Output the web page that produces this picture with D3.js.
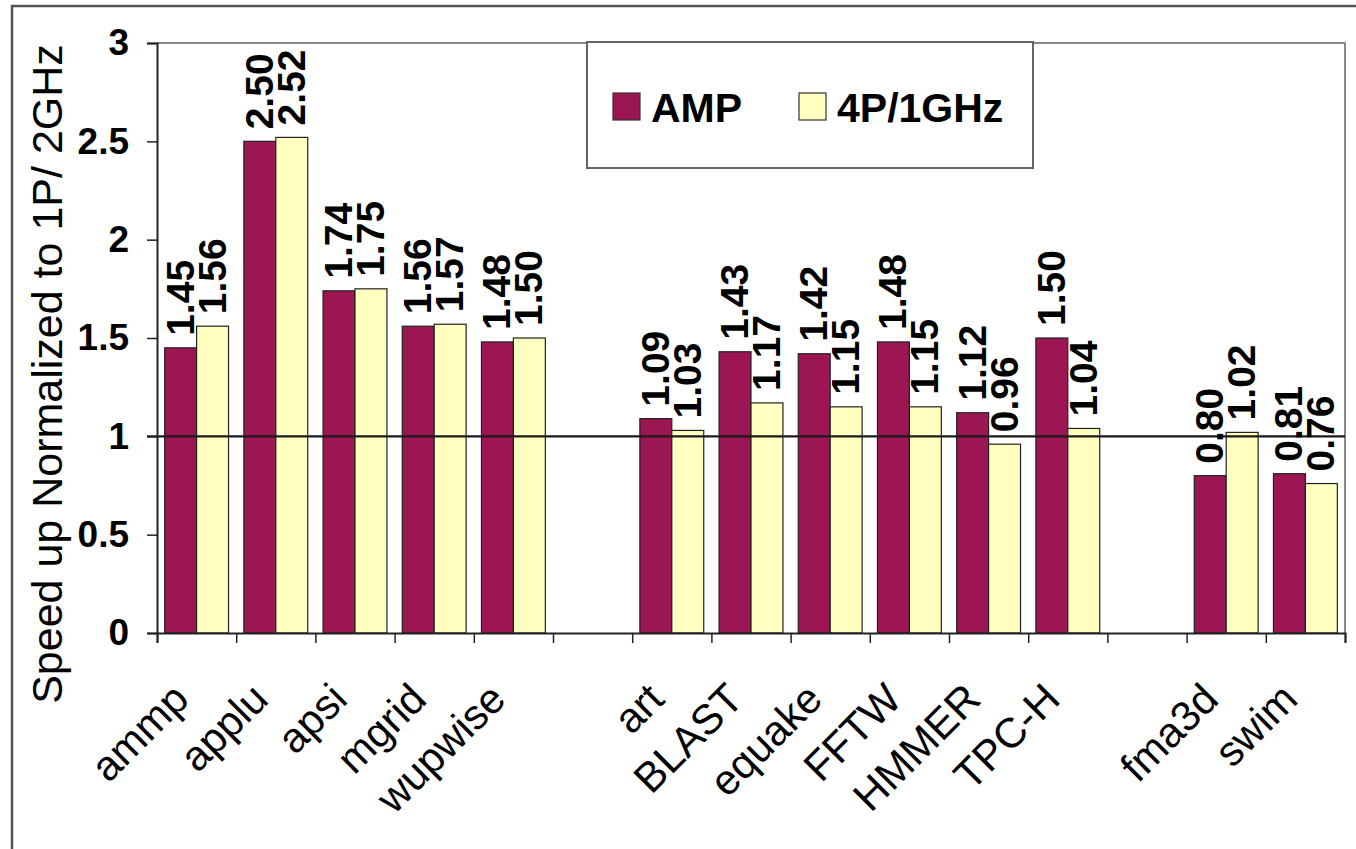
<!DOCTYPE html>
<html>
<head>
<meta charset="utf-8">
<script src="https://cdn.jsdelivr.net/npm/d3@7"></script>
<style>
  body { margin: 0; background: #fff; }
  svg { display: block; font-family: "Liberation Sans", Arial, sans-serif; }
</style>
</head>
<body>
<div id="chart"></div>
<script>
// slot order along the x axis, blank entries are the empty gaps between groups
var slots = ["ammp", "applu", "apsi", "mgrid", "wupwise", "",
             "art", "BLAST", "equake", "FFTW", "HMMER", "TPC-H", " ",
             "fma3d", "swim"];
var categories = ["ammp", "applu", "apsi", "mgrid", "wupwise",
                  "art", "BLAST", "equake", "FFTW", "HMMER", "TPC-H",
                  "fma3d", "swim"];
var seriesNames = ["AMP", "4P/1GHz"];
var ampValues = [1.45, 2.50, 1.74, 1.56, 1.48, 1.09, 1.43, 1.42, 1.48, 1.12, 1.50, 0.80, 0.81];
var fourPValues = [1.56, 2.52, 1.75, 1.57, 1.50, 1.03, 1.17, 1.15, 1.15, 0.96, 1.04, 1.02, 0.76];
var yTicks = [0, 0.5, 1, 1.5, 2, 2.5, 3];
var yTitle = "Speed up Normalized to 1P/ 2GHz";

var colors = {"AMP": "#9b1652", "4P/1GHz": "#ffffc0"};

var width = 1356, height = 849;
var plot = {left: 157, right: 1345, top: 43, bottom: 633};

var rows = [];
categories.forEach(function(c, i) {
  rows.push({cat: c, series: "AMP", value: ampValues[i]});
  rows.push({cat: c, series: "4P/1GHz", value: fourPValues[i]});
});

var svg = d3.select("#chart").append("svg")
    .attr("width", width)
    .attr("height", height);

// outer chart border (runs off the right and bottom edges)
svg.append("rect")
    .attr("x", 12).attr("y", 6)
    .attr("width", 1400).attr("height", 900)
    .attr("fill", "none")
    .attr("stroke", "#555")
    .attr("stroke-width", 2.5);

var x0 = d3.scaleBand()
    .domain(slots)
    .range([plot.left, plot.right])
    .paddingInner(0).paddingOuter(0);

var x1 = d3.scaleBand()
    .domain(seriesNames)
    .range([0, x0.bandwidth()])
    .paddingInner(0).paddingOuter(0.24);

var y = d3.scaleLinear()
    .domain([0, 3])
    .range([plot.bottom, plot.top]);

// plot frame (top and right)
svg.append("path")
    .attr("d", "M" + plot.left + "," + plot.top + "H" + plot.right + "V" + plot.bottom)
    .attr("fill", "none")
    .attr("stroke", "#888")
    .attr("stroke-width", 2);

// bars
svg.append("g").selectAll("rect")
  .data(rows)
  .enter().append("rect")
    .attr("x", function(d) { return x0(d.cat) + x1(d.series); })
    .attr("y", function(d) { return y(d.value); })
    .attr("width", x1.bandwidth())
    .attr("height", function(d) { return y(0) - y(d.value); })
    .attr("fill", function(d) { return colors[d.series]; })
    .attr("stroke", "#222")
    .attr("stroke-width", 1.2);

// reference line at 1
svg.append("line")
    .attr("x1", plot.left - 10).attr("x2", plot.right)
    .attr("y1", y(1)).attr("y2", y(1))
    .attr("stroke", "#1a1a1a")
    .attr("stroke-width", 2.2);

// y axis
var yAxis = d3.axisLeft(y)
    .tickValues(yTicks)
    .tickFormat(function(d) { return d; })
    .tickSize(10)
    .tickPadding(18);

var gy = svg.append("g")
    .attr("transform", "translate(" + plot.left + ",0)")
    .call(yAxis);
gy.select(".domain").attr("stroke", "#222").attr("stroke-width", 2);
gy.selectAll(".tick line").attr("stroke", "#222").attr("stroke-width", 1.5);
gy.selectAll("text")
    .attr("font-size", 37)
    .attr("font-weight", "bold")
    .attr("fill", "#000")
    .attr("font-family", "Liberation Sans, Arial, sans-serif");

// x axis: tick marks between slots
var xEdge = d3.scaleLinear().domain([0, slots.length]).range([plot.left, plot.right]);
var gx = svg.append("g")
    .attr("transform", "translate(0," + plot.bottom + ")")
    .call(d3.axisBottom(xEdge).tickValues(d3.range(slots.length + 1)).tickFormat("").tickSize(10));
gx.select(".domain").attr("stroke", "#222").attr("stroke-width", 2);
gx.selectAll(".tick line").attr("stroke", "#222").attr("stroke-width", 1.5);

// x axis category labels, rotated
var gl = svg.append("g")
    .attr("transform", "translate(0," + plot.bottom + ")")
    .call(d3.axisBottom(x0).tickValues(categories).tickSize(0).tickPadding(0));
gl.select(".domain").remove();
gl.selectAll("text")
    .attr("font-size", 42)
    .attr("fill", "#000")
    .attr("font-family", "Liberation Sans, Arial, sans-serif")
    .attr("text-anchor", "end")
    .attr("x", 0).attr("y", 0)
    .attr("dy", "0.35em")
    .attr("transform", "translate(-16,58) rotate(-45)");

// value labels
svg.append("g").selectAll("text")
  .data(rows)
  .enter().append("text")
    .attr("transform", function(d) {
      var cx = x0(d.cat) + x1(d.series) + x1.bandwidth() / 2 + 13;
      return "translate(" + cx + "," + (y(d.value) - 12) + ") rotate(-90)";
    })
    .attr("font-size", 39)
    .attr("font-weight", "bold")
    .attr("fill", "#000")
    .text(function(d) { return d.value.toFixed(2); });

// y axis title
svg.append("text")
    .attr("transform", "translate(62,374) rotate(-90)")
    .attr("text-anchor", "middle")
    .attr("font-size", 43)
    .attr("fill", "#000")
    .text(yTitle);

// legend
var legend = svg.append("g");
legend.append("rect")
    .attr("x", 587).attr("y", 42)
    .attr("width", 446).attr("height", 126)
    .attr("fill", "#fff")
    .attr("stroke", "#666")
    .attr("stroke-width", 2);
var legendX = [613, 799];
seriesNames.forEach(function(s, i) {
  legend.append("rect")
      .attr("x", legendX[i]).attr("y", 93)
      .attr("width", 27).attr("height", 27)
      .attr("fill", colors[s])
      .attr("stroke", "#333")
      .attr("stroke-width", 1.2);
  legend.append("text")
      .attr("x", legendX[i] + 38).attr("y", 122)
      .attr("font-size", 41)
      .attr("font-weight", "bold")
      .attr("fill", "#000")
      .text(s);
});
</script>
</body>
</html>
